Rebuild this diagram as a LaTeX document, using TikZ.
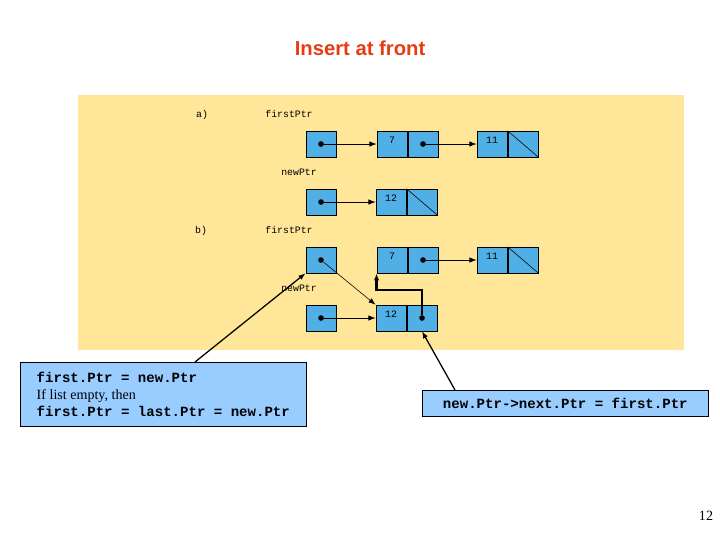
\documentclass[tikz,border=0pt]{standalone}
\usepackage{fontspec}
\setmainfont{Liberation Serif}
\newfontfamily\codefont{Liberation Mono}
\newfontfamily\titlefont{Liberation Sans}
\usetikzlibrary{arrows.meta}
\definecolor{cellblue}{RGB}{80,175,228}
\definecolor{panel}{RGB}{255,230,153}
\definecolor{notebox}{RGB}{153,204,255}
\definecolor{titlered}{RGB}{230,60,20}
\tikzset{
    cell/.style={draw, fill=cellblue, minimum width=0.76cm, minimum height=0.65cm, inner sep=0pt},
    val/.style={cell, text depth=0pt, font=\codefont\scriptsize, anchor=center},
    lbl/.style={font=\codefont\scriptsize},
    dot/.style={circle, fill=black, inner sep=0pt, minimum size=4pt},
    ptr/.style={-{Latex[length=5pt]}},
    note/.style={draw, fill=notebox, align=left, inner sep=3pt}
}
\begin{document}
\begin{tikzpicture}[x=0.025cm, y=-0.025cm]
    \useasboundingbox (0,0) rectangle (720,540);
    \node[font=\titlefont\bfseries\Large, text=titlered] (title) at (360,48) {Insert at front};
    \fill[panel] (78,95) rectangle (684,350);

    % labels
    \node[lbl] (la) at (202,115) {a)};
    \node[lbl] (fa) at (289,114) {firstPtr};
    \node[lbl] (na) at (299,172) {newPtr};
    \node[lbl] (lb) at (201,231) {b)};
    \node[lbl] (fb) at (289,230) {firstPtr};
    \node[lbl] (nb) at (299,288) {newPtr};

    % a) list
    \node[cell] (pa) at (321,144) {};
    \node[val] (a7) at (392,144) {\raisebox{6pt}{7}};
    \node[cell] (a7n) at (423,144) {};
    \node[val] (a11) at (492,144) {\raisebox{6pt}{11}};
    \node[cell] (a11n) at (523,144) {};
    \node[cell] (qa) at (321,202) {};
    \node[val] (a12) at (391,202) {\raisebox{6pt}{12}};
    \node[cell] (a12n) at (422,202) {};
    \draw (a11n.north west) -- (a11n.south east);
    \draw (a12n.north west) -- (a12n.south east);
    \node[dot] (dpa) at (pa) {};
    \node[dot] (da7) at (a7n) {};
    \node[dot] (dqa) at (qa) {};
    \draw[ptr] (dpa) -- (a7.west);
    \draw[ptr] (da7) -- (a11.west);
    \draw[ptr] (dqa) -- (a12.west);

    % b) list
    \node[cell] (pb) at (321,260) {};
    \node[val] (b7) at (392,260) {\raisebox{6pt}{7}};
    \node[cell] (b7n) at (423,260) {};
    \node[val] (b11) at (492,260) {\raisebox{6pt}{11}};
    \node[cell] (b11n) at (523,260) {};
    \node[cell] (qb) at (321,318) {};
    \node[val] (b12) at (391,318) {\raisebox{6pt}{12}};
    \node[cell] (b12n) at (422,318) {};
    \draw (b11n.north west) -- (b11n.south east);
    \node[dot] (dpb) at (pb) {};
    \node[dot] (db7) at (b7n) {};
    \node[dot] (dqb) at (qb) {};
    \node[dot] (db12) at (b12n) {};
    \draw[ptr] (db7) -- (b11.west);
    \draw[ptr] (dqb) -- (b12.west);
    \draw[ptr] (dpb) -- (b12.north west);
    \draw[ptr, line width=1.5pt] (db12) -- (422,290) -| (b7.south west);

    % notes
    \node[note, anchor=north west, minimum width=7.15cm, minimum height=1.6cm] (n1) at (20,362)
        {{\codefont\bfseries first.Ptr = new.Ptr}\\If list empty, then\\{\codefont\bfseries first.Ptr = last.Ptr = new.Ptr}};
    \node[note, anchor=north west, minimum width=7.15cm, minimum height=0.65cm] (n2) at (422,390)
        {\codefont\bfseries new.Ptr->next.Ptr = first.Ptr};
    \draw[ptr, line width=0.9pt] (n1.north west) ++(175,0) coordinate (c1) -- (pb.south west);
    \draw[ptr, line width=0.9pt] (n2.north west) ++(33,0) coordinate (c2) -- (b12n.south);

    \node (pg) at (706,516) {12};
\end{tikzpicture}
\end{document}
